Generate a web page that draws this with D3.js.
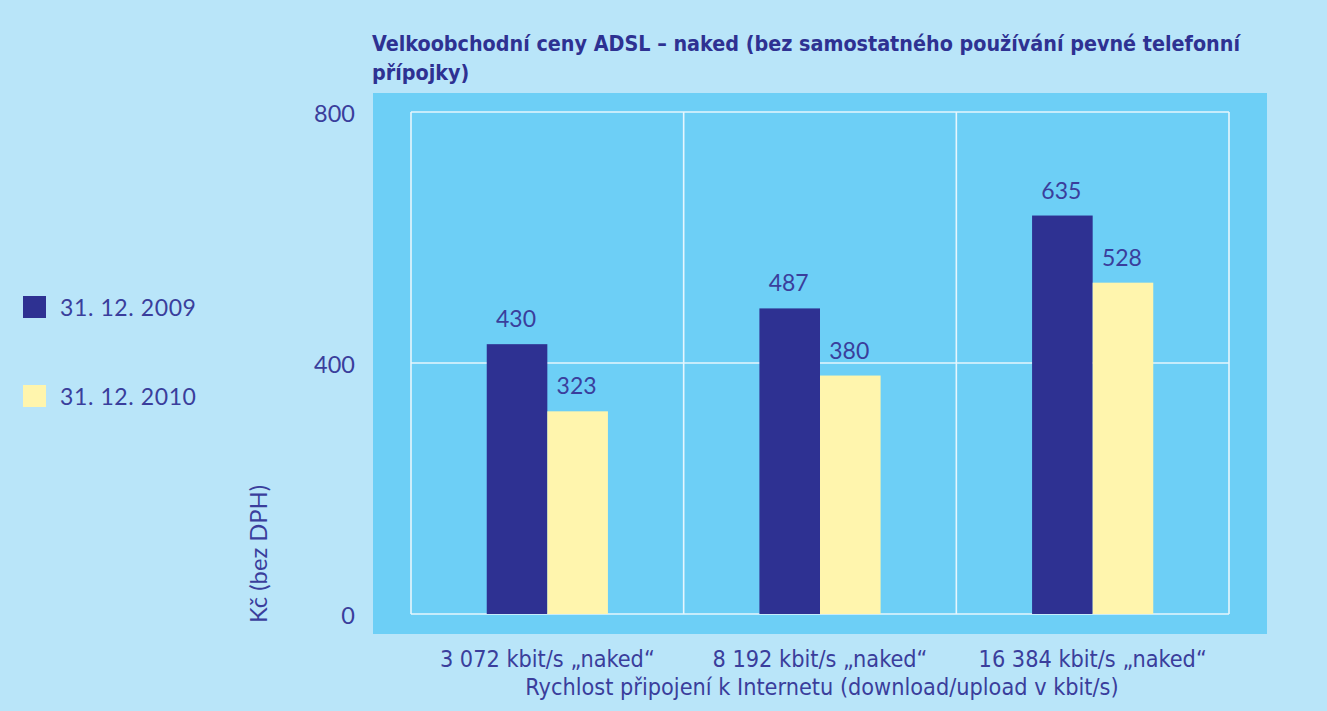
<!DOCTYPE html>
<html>
<head>
<meta charset="utf-8">
<script src="https://cdn.jsdelivr.net/npm/d3@7"></script>
<style>
  html, body { margin: 0; padding: 0; background: #b9e5f9; }
  svg { display: block; }
</style>
</head>
<body>
<svg id="chart" width="1327" height="711"></svg>
<script>
// ---- data ----
const categories = ["3 072 kbit/s „naked“", "8 192 kbit/s „naked“", "16 384 kbit/s „naked“"];
const seriesNames = ["31. 12. 2009", "31. 12. 2010"];
const values2009 = [430, 487, 635];
const values2010 = [323, 380, 528];
const yTicks = [0, 400, 800];
const titleLines = ["Velkoobchodní ceny ADSL – naked (bez samostatného používání pevné telefonní", "přípojky)"];
const yTitle = "Kč (bez DPH)";
const xTitle = "Rychlost připojení k Internetu (download/upload v kbit/s)";

// ---- styles ----
const colBg = "#b9e5f9", colPanel = "#6dcff6", colGrid = "#e6f6fd";
const colDark = "#2e3192", colLight = "#fff5ad", colText = "#3a3e9c", colTitle = "#2e3192";
const numFont = "Lato, 'Open Sans', sans-serif";
const narrowFont = "'DejaVu Sans Condensed', Lato, sans-serif";

const svg = d3.select("#chart");
svg.append("rect").attr("width", 1327).attr("height", 711).attr("fill", colBg);

const plot = { left: 411, right: 1229, top: 112, bottom: 614 };
svg.append("rect").attr("x", 373).attr("y", 93).attr("width", 894).attr("height", 541).attr("fill", colPanel);

const x0 = d3.scaleBand().domain(categories).range([plot.left, plot.right]).paddingInner(0).paddingOuter(0);
const x1 = d3.scaleBand().domain(seriesNames).range([0, x0.bandwidth()]).paddingInner(0).paddingOuter(1.25);
const y = d3.scaleLinear().domain([0, 800]).range([plot.bottom, plot.top]);
const color = d3.scaleOrdinal().domain(seriesNames).range([colDark, colLight]);

// grid
const g = svg.append("g");
g.selectAll("line.h").data(yTicks).join("line")
  .attr("x1", plot.left).attr("x2", plot.right)
  .attr("y1", d => y(d)).attr("y2", d => y(d))
  .attr("stroke", colGrid).attr("stroke-width", 1.6);
const vLines = categories.map(c => x0(c)).concat([plot.right]);
g.selectAll("line.v").data(vLines).join("line")
  .attr("x1", d => d).attr("x2", d => d)
  .attr("y1", plot.top).attr("y2", plot.bottom)
  .attr("stroke", colGrid).attr("stroke-width", 1.6);

// bars
const rows = categories.map((c, i) => ({ cat: c, vals: [
  { s: seriesNames[0], v: values2009[i] },
  { s: seriesNames[1], v: values2010[i] }
]}));
const grp = svg.append("g").selectAll("g").data(rows).join("g")
  .attr("transform", d => `translate(${x0(d.cat)},0)`);
grp.selectAll("rect").data(d => d.vals).join("rect")
  .attr("x", d => x1(d.s)).attr("width", x1.bandwidth())
  .attr("y", d => y(d.v)).attr("height", d => y(0) - y(d.v))
  .attr("fill", d => color(d.s));
grp.selectAll("text").data(d => d.vals).join("text")
  .attr("x", d => x1(d.s) + x1.bandwidth() / 2 - 1)
  .attr("y", d => y(d.v) - 17)
  .attr("text-anchor", "middle")
  .attr("font-family", numFont).attr("font-size", 23).attr("fill", colText)
  .text(d => d.v);

// y tick labels
svg.append("g").selectAll("text").data(yTicks).join("text")
  .attr("x", 355).attr("y", d => y(d) + 10)
  .attr("text-anchor", "end")
  .attr("font-family", numFont).attr("font-size", 23.5).attr("fill", colText)
  .text(d => d);

// fit helper
function fit(sel, target) {
  const n = sel.node();
  const w = n.getComputedTextLength();
  const fs = parseFloat(sel.attr("font-size"));
  sel.attr("font-size", fs * target / w);
}

// y title
const yt = svg.append("text")
  .attr("transform", "translate(267,554) rotate(-90)")
  .attr("text-anchor", "middle")
  .attr("font-family", numFont).attr("font-size", 22).attr("fill", colText)
  .text(yTitle);
fit(yt, 138);

// x tick labels
const xl = svg.append("g").selectAll("text").data(categories).join("text")
  .attr("x", d => x0(d) + x0.bandwidth() / 2)
  .attr("y", 667)
  .attr("text-anchor", "middle")
  .attr("font-family", narrowFont).attr("font-size", 22).attr("fill", colText)
  .text(d => d);
fit(d3.select(xl.nodes()[0]), 215);
const fsX = parseFloat(d3.select(xl.nodes()[0]).attr("font-size"));
xl.attr("font-size", fsX);

const xt = svg.append("text")
  .attr("x", 822).attr("y", 695)
  .attr("text-anchor", "middle")
  .attr("font-family", narrowFont).attr("font-size", fsX).attr("fill", colText)
  .text(xTitle);

// title
const tg = svg.append("g");
const t1 = tg.append("text").attr("x", 372).attr("y", 51)
  .attr("font-family", narrowFont).attr("font-weight", "bold").attr("font-size", 22).attr("fill", colTitle)
  .attr("textLength", 868).attr("lengthAdjust", "spacingAndGlyphs")
  .text(titleLines[0]);
const t1w = 868;
const ratio = t1w / t1.node().getComputedTextLength();
const t2 = tg.append("text").attr("x", 372).attr("y", 80)
  .attr("font-family", narrowFont).attr("font-weight", "bold").attr("font-size", 22).attr("fill", colTitle)
  .text(titleLines[1]);
// compress second line horizontally by the same ratio as line 1
const t1natural = (function(){ const tmp = tg.append("text").attr("font-family", narrowFont).attr("font-weight","bold").attr("font-size",22).text(titleLines[0]); const w = tmp.node().getComputedTextLength(); tmp.remove(); return w; })();
const r = 868 / t1natural;
t2.attr("textLength", t2.node().getComputedTextLength() * r).attr("lengthAdjust", "spacingAndGlyphs");

// legend
const leg = svg.append("g").selectAll("g").data(seriesNames).join("g")
  .attr("transform", (d, i) => `translate(23,${296 + i * 89})`);
leg.append("rect").attr("width", 23).attr("height", 22).attr("fill", d => color(d));
leg.append("text").attr("x", 37).attr("y", 20)
  .attr("font-family", numFont).attr("font-size", 23).attr("letter-spacing", 0.6).attr("fill", colText)
  .text(d => d);
</script>
</body>
</html>
